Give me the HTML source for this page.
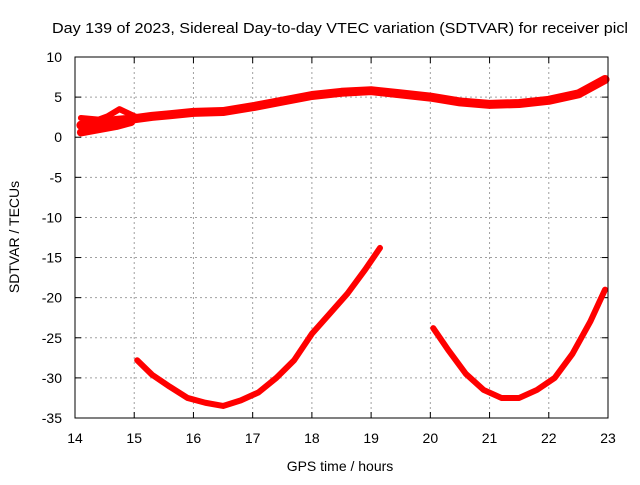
<!DOCTYPE html>
<html><head><meta charset="utf-8"><style>
body{margin:0;background:#fff}
svg text{font-family:"Liberation Sans",sans-serif;font-size:14px;fill:#000}
</style></head><body>
<svg id="chart" width="640" height="480" xmlns="http://www.w3.org/2000/svg">
<rect width="640" height="480" fill="#fff"/>
<text x="52" y="33" textLength="576" lengthAdjust="spacingAndGlyphs" style="font-size:15px">Day 139 of 2023, Sidereal Day-to-day VTEC variation (SDTVAR) for receiver picl</text>
<g id="grid"></g>
<g id="ticks"></g>
<g id="series"></g>
<rect x="75" y="57" width="533" height="361" fill="none" stroke="#000" stroke-width="1"/>
<text x="340" y="471" text-anchor="middle">GPS time / hours</text>
<text transform="translate(19,237) rotate(-90)" text-anchor="middle">SDTVAR / TECUs</text>
</svg>
<script>
const xTicks=[14,15,16,17,18,19,20,21,22,23];
const yTicks=[10,5,0,-5,-10,-15,-20,-25,-30,-35];
const bandMid=[[14.1,1.5],[14.4,1.8],[14.7,2.1],[15,2.3],[15.3,2.6],[15.6,2.8],[16,3.1],[16.5,3.2],[17,3.8],[17.5,4.5],[18,5.2],[18.5,5.6],[19,5.8],[19.5,5.4],[20,5.0],[20.5,4.4],[21,4.1],[21.5,4.2],[22,4.6],[22.5,5.4],[22.95,7.2]];
const bandLow=[[14.1,0.6],[14.4,1.0],[14.7,1.4],[14.95,1.9]];
const bandHigh=[[14.1,2.4],[14.4,2.2],[14.55,2.6],[14.75,3.5],[14.95,2.8],[15.1,2.3]];
const arcA=[[15.05,-27.8],[15.3,-29.6],[15.6,-31.1],[15.9,-32.5],[16.2,-33.1],[16.5,-33.5],[16.8,-32.8],[17.1,-31.8],[17.4,-30],[17.7,-27.8],[18,-24.5],[18.3,-22],[18.6,-19.5],[18.9,-16.5],[19.15,-13.8]];
const arcB=[[20.05,-23.8],[20.3,-26.5],[20.6,-29.5],[20.9,-31.5],[21.2,-32.5],[21.5,-32.5],[21.8,-31.5],[22.1,-30],[22.4,-27],[22.7,-23],[22.95,-19]];
const X=v=>75+(v-14)*(533/9), Y=v=>57+(10-v)*(361/45);
const NS="http://www.w3.org/2000/svg";
function mk(t,a,p){const e=document.createElementNS(NS,t);for(const k in a)e.setAttribute(k,a[k]);p.appendChild(e);return e;}
const g=document.getElementById('grid'),tk=document.getElementById('ticks'),s=document.getElementById('series');
xTicks.forEach(v=>{const x=X(v);
 if(v>14&&v<23){const l=mk('line',{x1:x,x2:x,y1:57,y2:418,stroke:'#a0a0a0','stroke-dasharray':'2,3'},g);
 
 }
 mk('line',{x1:x,x2:x,y1:418,y2:412,stroke:'#000'},tk);mk('line',{x1:x,x2:x,y1:57,y2:63,stroke:'#000'},tk);
 const t=mk('text',{x:x,y:443,'text-anchor':'middle'},tk);t.textContent=v;
 
 });
yTicks.forEach(v=>{const y=Y(v);
 if(v<10&&v>-35){const l=mk('line',{x1:75,x2:608,y1:y,y2:y,stroke:'#a0a0a0','stroke-dasharray':'2,3'},g);
 
 }
 mk('line',{x1:75,x2:81,y1:y,y2:y,stroke:'#000'},tk);mk('line',{x1:608,x2:602,y1:y,y2:y,stroke:'#000'},tk);
 const t=mk('text',{x:62,y:y+5,'text-anchor':'end'},tk);t.textContent=v;
 
 });
function line(d,w,name){const p=mk('polyline',{points:d.map(q=>X(q[0])+','+Y(q[1])).join(' '),fill:'none',stroke:'#ff0000','stroke-width':w,'stroke-linejoin':'round','stroke-linecap':'round'},s);
 
 }
line(bandMid,9,'band-series');
line(bandLow,8,'band-series-low');
line(bandHigh,6,'band-series-high');
line(arcA,6,'arc-series-a');
line(arcB,6,'arc-series-b');
</script>
</body></html>
